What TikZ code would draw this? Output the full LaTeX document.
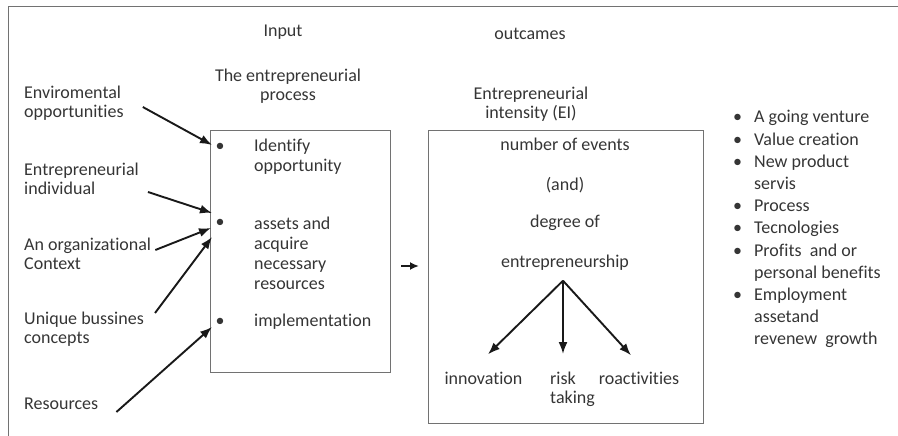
\documentclass[tikz,border=0pt]{standalone}
\usepackage{fontspec}
\setmainfont{Carlito}[RawFeature={-liga;-clig}]
\usepackage{tikz}
\usetikzlibrary{arrows.meta,positioning,calc}
\definecolor{inkgray}{HTML}{353535}
\definecolor{framegray}{HTML}{727272}
\tikzset{
    txt/.style={font=\fontsize{18}{19}\selectfont, text=inkgray, inner sep=0pt},
    oneline/.style={txt, text height=13pt, text depth=4pt},
    lefttxt/.style={txt, align=left, anchor=west},
    box/.style={draw=framegray, line width=1pt, anchor=north west, inner sep=0pt},
    flow/.style={-{Latex[length=12pt, width=9pt]}, line width=1.9pt, black!90}
}

\begin{document}
\begin{tikzpicture}[x=1pt, y=-1pt]
    \useasboundingbox (0,0) rectangle (898,436);
    \draw[framegray, line width=1pt] (8,436) -- (8,7) -- (898,7);

    % headings
    \node[oneline] (input) at (283,32) {Input};
    \node[txt, align=center] (proc) at (288,86.5) {The entrepreneurial\\process};
    \node[oneline] (outc) at (530,35) {outcames};
    \node[txt, align=center] (intens) at (531,104) {Entrepreneurial\\intensity (EI)};

    % boxes
    \node[box, minimum width=180pt, minimum height=242pt] (procbox) at (210,130) {};
    \node[box, minimum width=275pt, minimum height=293pt] (eibox) at (428,130) {};

    % inputs
    \node[lefttxt] (envop) at (24,103.5) {Enviromental\\opportunities};
    \node[lefttxt] (indiv) at (24,179) {Entrepreneurial\\individual};
    \node[lefttxt] (orgctx) at (24,253.5) {An organizational\\Context};
    \node[lefttxt] (unique) at (24,329.5) {Unique bussines\\concepts};
    \node[lefttxt, oneline] (resrc) at (24,405) {Resources};

    \draw[flow] ([shift={(19,3.5)}]envop.east) -- ([shift={(2,15)}]procbox.north west);
    \draw[flow] ([shift={(9,13)}]indiv.east) -- ([shift={(2,83)}]procbox.north west);
    \draw[flow] ([shift={(4,-3.5)}]orgctx.east) -- ([shift={(1,98)}]procbox.north west);
    \draw[flow] ([shift={(11,-16.5)}]unique.east) -- ([shift={(2,107)}]procbox.north west);
    \draw[flow] ([shift={(18,7)}]resrc.east) -- ([shift={(2,197)}]procbox.north west);

    % process steps
    \node[oneline] (dota) at (220,147) {\textbullet};
    \node[oneline] (dotb) at (220,223) {\textbullet};
    \node[oneline] (dotc) at (220,322) {\textbullet};
    \node[lefttxt, font=\fontsize{18}{20}\selectfont] (identify) at (254,157) {Identify\\opportunity};
    \node[lefttxt, font=\fontsize{18}{20}\selectfont] (assets) at (254,253) {assets and\\acquire\\necessary\\resources};
    \node[lefttxt, oneline] (implem) at (254,322) {implementation};

    \coordinate (midy) at (0,266);
    \draw[flow, -{Latex[length=9pt, width=8pt]}, shorten <=10pt, shorten >=9pt] (procbox.east |- midy) -- (eibox.west |- midy);

    % intensity
    \node[oneline] (evnum) at (565,146) {number of events};
    \node[oneline] (andtxt) at (565,186) {(and)};
    \node[oneline] (degree) at (565,223) {degree of};
    \node[oneline] (entship) at (565,263) {entrepreneurship};

    \node[oneline] (innov) at (483.5,380) {innovation};
    \node[lefttxt] (risk) at (550,389.5) {risk\\taking};
    \node[oneline] (roact) at (639,380) {roactivities};

    \coordinate (fork) at ([shift={(-2,9)}]entship.south);
    \coordinate (tipy) at (0,354);
    \draw[flow] (fork) -- ([shift={(4.5,-17)}]innov.north);
    \draw[flow] (fork) -- (fork |- tipy);
    \draw[flow] (fork) -- ([shift={(-8,-16)}]roact.north);

    % outcomes
    \node[txt, anchor=west, font=\fontsize{18}{22.2}\selectfont] (results) at (733,229.5) {%
        \begin{tabular}{@{}l@{\hspace{12pt}}l@{}}
        \textbullet & A going venture\\
        \textbullet & Value creation\\
        \textbullet & New product\\
                    & servis\\
        \textbullet & Process\\
        \textbullet & Tecnologies\\
        \textbullet & Profits\ \ and or\\
                    & personal benefits\\
        \textbullet & Employment\\
                    & assetand\\
                    & revenew\ \ growth
        \end{tabular}};
\end{tikzpicture}
\end{document}
